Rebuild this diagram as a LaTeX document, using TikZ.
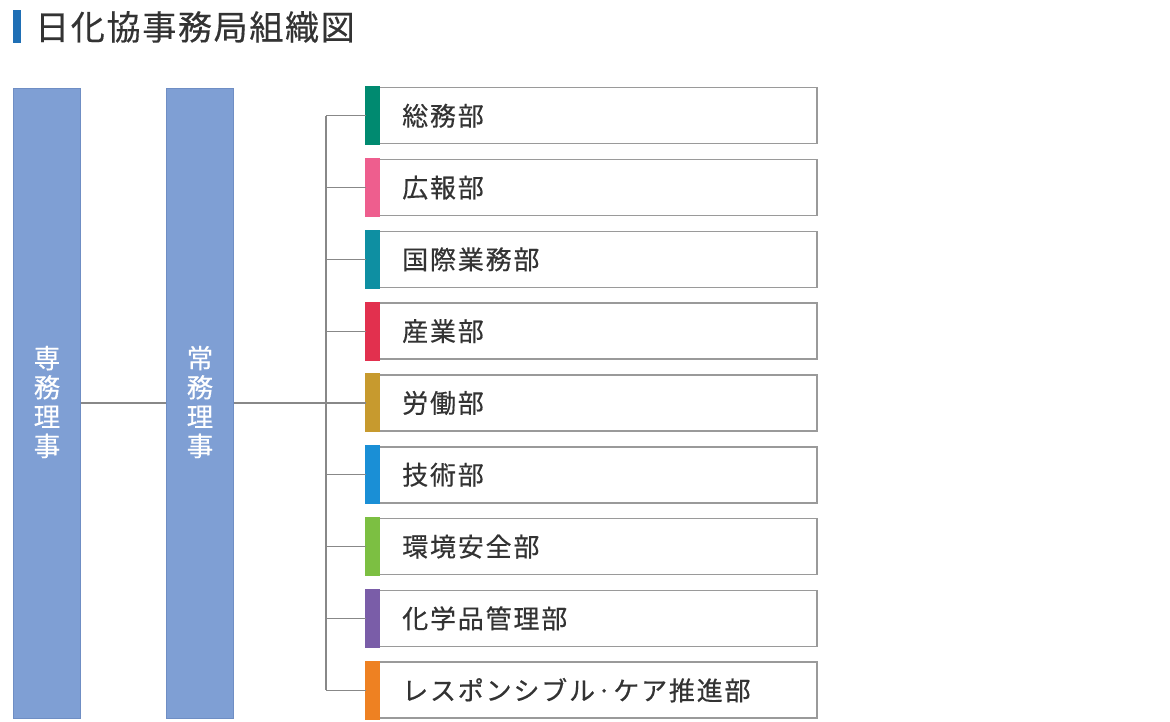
\documentclass[tikz,border=0pt]{standalone}
\usepackage{fontspec}
\setmainfont{Noto Sans CJK JP}
\newfontfamily\jp[LetterSpace=5,FakeBold=0.4]{Noto Sans CJK JP}
\newfontfamily\jpd[LetterSpace=7,FakeBold=0.4]{Noto Sans CJK JP}
\definecolor{barblue}{HTML}{7F9FD4}
\definecolor{barborder}{HTML}{6F8EC4}
\definecolor{titleblue}{HTML}{1F6FB5}
\definecolor{txt}{HTML}{333333}
\definecolor{boxline}{HTML}{9A9A9A}
\definecolor{linegray}{HTML}{888888}
\definecolor{cA}{HTML}{008A70}
\definecolor{cB}{HTML}{EE5E8E}
\definecolor{cC}{HTML}{0E8FA2}
\definecolor{cD}{HTML}{E2304E}
\definecolor{cE}{HTML}{C79A2E}
\definecolor{cF}{HTML}{1A8FD6}
\definecolor{cG}{HTML}{7CBF42}
\definecolor{cH}{HTML}{7A5DA8}
\definecolor{cI}{HTML}{EE8122}
\begin{document}
\begin{tikzpicture}[x=1pt,y=-1pt,
  bigbar/.style={draw=barborder,line width=1.2pt,fill=barblue,minimum width=67pt,minimum height=630pt,inner sep=0pt,anchor=north west},
  deptbox/.style={draw=boxline,line width=1.5pt,fill=white,minimum width=450pt,minimum height=56pt,inner sep=0pt,anchor=north west},
  depttext/.style={anchor=west,text=txt,font=\jpd\fontsize{26}{28}\selectfont,inner sep=0pt},
  conn/.style={draw=linegray,line width=1.2pt},
  vtext/.style={text=white,font=\jp\fontsize{26.5}{29.3}\selectfont,align=center,inner sep=0pt}]
\useasboundingbox (0,0) rectangle (1170,722);
\fill[white] (0,0) rectangle (1170,722);
% title
\fill[titleblue] (13,10) rectangle (21,43);
\node[anchor=west,text=txt,font=\jp\fontsize{34}{36}\selectfont,inner sep=0pt] (title) at (35,27) {日化協事務局組織図};
% bars
\node[bigbar] (senmu) at (13,88) {};
\node[bigbar] (jomu) at (166,88) {};
\node[vtext] (senmut) at (47,402) {専\\務\\理\\事};
\node[vtext] (jomut) at (200,402) {常\\務\\理\\事};
% departments
\foreach \i/\name/\col in {0/総務部/cA,1/広報部/cB,2/国際業務部/cC,3/産業部/cD,4/労働部/cE,5/技術部/cF,6/環境安全部/cG,7/化学品管理部/cH,8/レスポンシブル·ケア推進部/cI}{
  \node[deptbox] (d\i) at (366,{87+71.8*\i}) {};
  \fill[\col] ([shift={(-0.75pt,0.75pt)}]d\i.north west) rectangle ([shift={(14pt,-0.75pt)}]d\i.south west);
  \node[depttext] (t\i) at ([xshift=36pt]d\i.west) {\name};
}
% connectors
\coordinate (trunkT) at (326,0);
\draw[conn] (senmu.east |- d4.west) -- (jomu.west |- d4.west);
\draw[conn] (jomu.east |- d4.west) -- (trunkT |- d4.west);
\draw[conn] (trunkT |- d0.west) -- (trunkT |- d8.west);
\foreach \i in {0,...,8}{
  \draw[conn] (trunkT |- d\i.west) -- (d\i.west);
}
\end{tikzpicture}
\end{document}
